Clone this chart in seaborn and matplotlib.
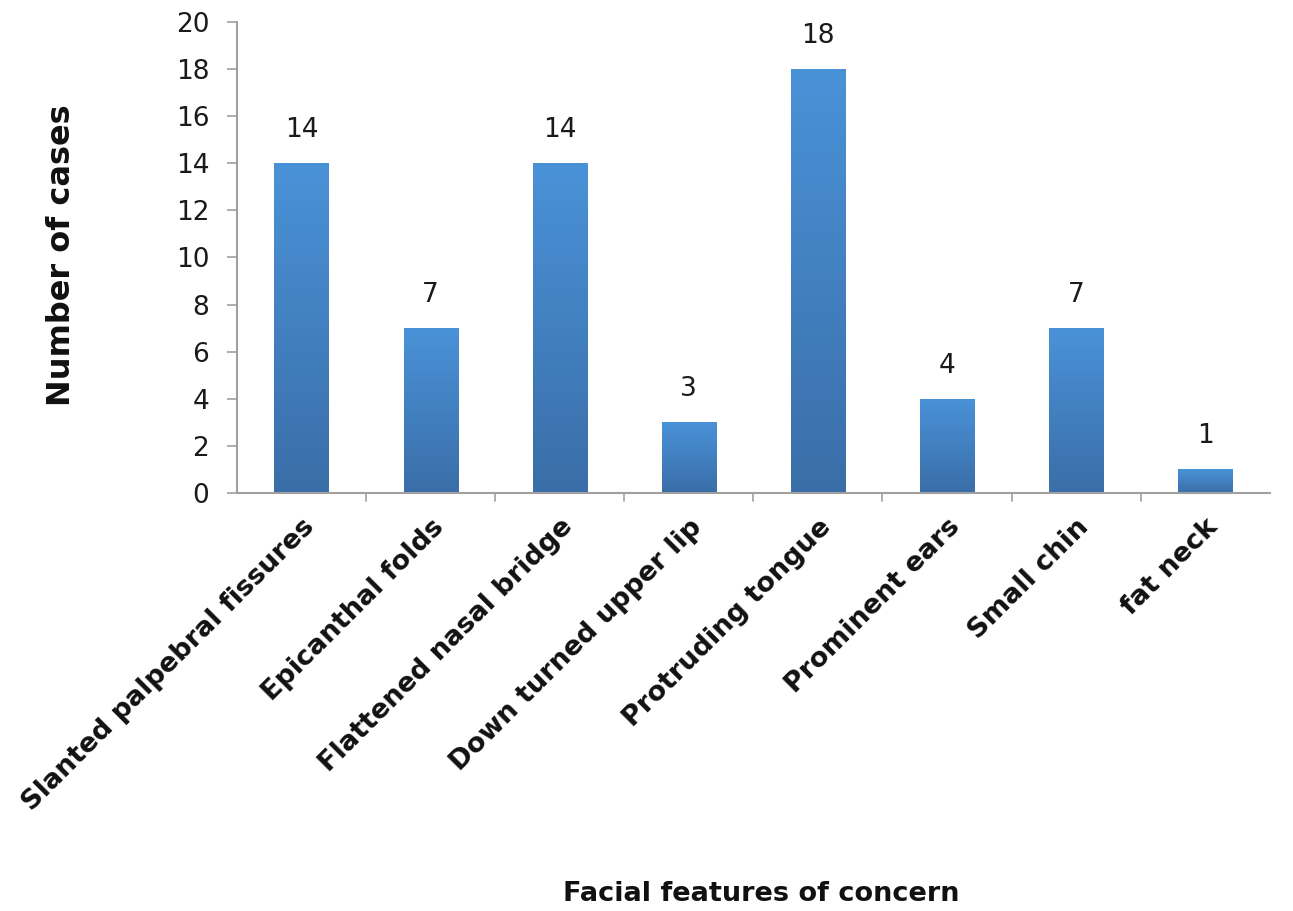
import numpy as np
import pandas as pd
import matplotlib
matplotlib.use("Agg")
import matplotlib.pyplot as plt
import seaborn as sns
from matplotlib.colors import LinearSegmentedColormap

features = [
    "Slanted palpebral fissures",
    "Epicanthal folds",
    "Flattened nasal bridge",
    "Down turned upper lip",
    "Protruding tongue",
    "Prominent ears",
    "Small chin",
    "fat neck",
]
cases = [14, 7, 14, 3, 18, 4, 7, 1]
y_ticks = [0, 2, 4, 6, 8, 10, 12, 14, 16, 18, 20]

sns.set_theme(style="white")
plt.rcParams["font.family"] = ["DejaVu Sans"]

df = pd.DataFrame({"feature": features, "cases": cases})

fig = plt.figure(figsize=(12.93, 9.11), dpi=100)
ax = fig.add_axes([0.1833, 0.4588, 0.7987, 0.5171])

sns.barplot(data=df, x="feature", y="cases", color="#3f80c4", width=0.42,
            ax=ax, saturation=1)

# vertical gradient fill: lighter at the top, darker at the base
grad = LinearSegmentedColormap.from_list("bar", ["#3a6ea8", "#4a92d8"])
gimg = np.linspace(0, 1, 256).reshape(-1, 1)
for patch in list(ax.patches):
    x0, y0 = patch.get_x(), patch.get_y()
    w, h = patch.get_width(), patch.get_height()
    im = ax.imshow(gimg, cmap=grad, aspect="auto", origin="lower",
                   extent=(x0, x0 + w, y0, y0 + h), zorder=patch.get_zorder())
    im.set_clip_path(patch)
    patch.set_edgecolor("none")

ax.set_xlim(-0.5, len(features) - 0.5)
ax.set_ylim(0, 20)
ax.set_yticks(y_ticks)
ax.tick_params(axis="y", labelsize=19, labelcolor="#1a1a1a", length=7,
               width=1.2, direction="out", left=True, color="#a0a0a0", pad=13)
ax.set_xticks(np.arange(len(features)))
ax.set_xticklabels(features, rotation=45, ha="right", rotation_mode="anchor",
                   fontsize=19.5, fontweight="bold", color="#111111")
ax.tick_params(axis="x", length=0, pad=15)

# category separators on the x axis
for b in np.arange(0.5, len(features) - 0.5, 1.0):
    ax.plot([b, b], [0, -0.35], color="#a0a0a0", lw=1.2, clip_on=False)

for side in ["top", "right"]:
    ax.spines[side].set_visible(False)
for side in ["left", "bottom"]:
    ax.spines[side].set_color("#a0a0a0")
    ax.spines[side].set_linewidth(1.5)

for i, v in enumerate(cases):
    ax.text(i, v + 0.85, str(v), ha="center", va="bottom", fontsize=19,
            color="#1a1a1a")

ax.set_ylabel("")
ax.set_xlabel("")
fig.text(62 / 1293, 1 - 255 / 911, "Number of cases", rotation=90,
         ha="center", va="center", fontsize=23, fontweight="bold",
         color="#111111")
fig.text(761 / 1293, 1 - 894 / 911, "Facial features of concern",
         ha="center", va="center", fontsize=19.5, fontweight="bold",
         color="#111111")

fig.savefig("out.png", dpi=100, facecolor="white")
